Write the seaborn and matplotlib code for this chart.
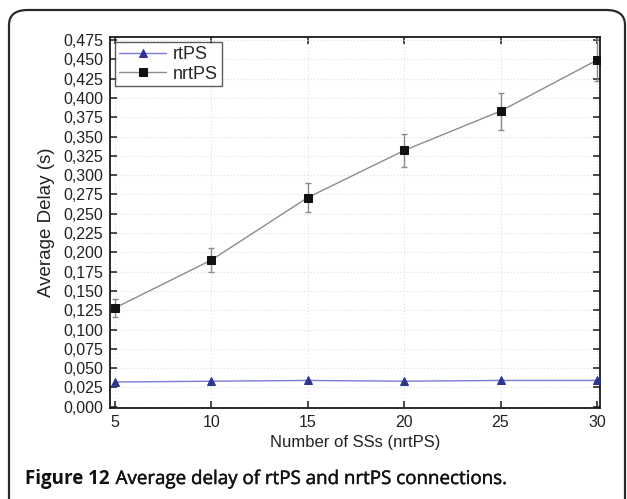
import matplotlib
matplotlib.use("Agg")
import matplotlib.pyplot as plt
import matplotlib.patheffects as pe
from matplotlib.patches import FancyBboxPatch
from matplotlib.ticker import FuncFormatter
import seaborn as sns
import pandas as pd

# Simulation results: number of subscriber stations vs. average delay
num_ss = [5, 10, 15, 20, 25, 30]
rtps_delay = [0.032, 0.033, 0.034, 0.033, 0.034, 0.034]
nrtps_delay = [0.128, 0.190, 0.271, 0.332, 0.383, 0.449]
nrtps_err = [0.012, 0.015, 0.019, 0.021, 0.024, 0.027]
y_ticks = [i * 0.025 for i in range(20)]

sns.set_theme(style="white")
plt.rcParams["font.family"] = ["Liberation Sans", "DejaVu Sans"]

fig = plt.figure(figsize=(6.27, 4.99), dpi=100)

# rounded panel border
frame = FancyBboxPatch((9 / 627, -0.2), (625 - 9) / 627, (499 - 10) / 499 + 0.2,
                       boxstyle="round,pad=0,rounding_size=0.03",
                       transform=fig.transFigure, fill=False,
                       edgecolor="#2a2a2a", linewidth=1.6, clip_on=False)
fig.patches.append(frame)

ax = fig.add_axes([110 / 627, 1 - 408 / 499, (600 - 110) / 627, (408 - 37) / 499])

df = pd.DataFrame({
    "ss": num_ss * 2,
    "delay": rtps_delay + nrtps_delay,
    "series": ["rtPS"] * len(num_ss) + ["nrtPS"] * len(num_ss),
})

ax.errorbar(num_ss, nrtps_delay, yerr=nrtps_err, fmt="none", ecolor="#8a8a8a",
            elinewidth=1.0, capsize=2.5, capthick=1.0, zorder=2)

sns.lineplot(data=df[df.series == "rtPS"], x="ss", y="delay", ax=ax,
             color="#7a7ad8", linewidth=1.0, marker="^", markersize=6,
             markerfacecolor="#2c3590", markeredgecolor="#2c3590",
             label="rtPS", zorder=3)
sns.lineplot(data=df[df.series == "nrtPS"], x="ss", y="delay", ax=ax,
             color="#8c8c8c", linewidth=1.0, marker="s", markersize=5.2,
             markerfacecolor="#111111", markeredgecolor="#111111",
             label="nrtPS", zorder=3)

ax.set_xlim(4.74, 30.16)
ax.set_ylim(-0.0017, 0.479)
ax.set_xticks(num_ss)
ax.set_yticks(y_ticks)
ax.yaxis.set_major_formatter(FuncFormatter(lambda v, p: f"{v:.3f}".replace(".", ",")))

ax.grid(True, color="#dedede", linestyle=(0, (1, 2)), linewidth=0.8)
for s in ax.spines.values():
    s.set_color("#1a1a1a")
    s.set_linewidth(1.3)

ax.tick_params(which="both", direction="in", top=True, right=True, bottom=True, left=True,
               length=5, width=1.1, color="#1a1a1a", labelsize=11.5, labelcolor="#222222",
               pad=5)

ax.set_xlabel("Number of SSs (nrtPS)", fontsize=12, color="#222222", labelpad=4)
ax.set_ylabel("Average Delay (s)", fontsize=13.5, color="#222222", labelpad=6)

leg = ax.legend(loc="upper left", fontsize=13, frameon=True, fancybox=False,
                borderaxespad=0.3, handlelength=2.6, handletextpad=0.4,
                borderpad=0.2, labelspacing=0.15)
leg.get_frame().set_edgecolor("#333333")
leg.get_frame().set_linewidth(1.0)

cap_font = ["Open Sans", "DejaVu Sans"]
cap_y = 1 - 479 / 499
t1 = fig.text(25 / 627, cap_y, "Figure 12", fontsize=13.5, fontweight="bold",
              family=cap_font, va="center", ha="left", color="#111111")
fig.canvas.draw()
bb = t1.get_window_extent(renderer=fig.canvas.get_renderer())
x_next = (bb.x1 + 6) / fig.bbox.width
fig.text(x_next, cap_y, "Average delay of rtPS and nrtPS connections.",
         fontsize=13.5, family=cap_font, va="center", ha="left", color="#111111",
         path_effects=[pe.withStroke(linewidth=0.3, foreground="#111111")])

fig.savefig("out.png", dpi=100)
